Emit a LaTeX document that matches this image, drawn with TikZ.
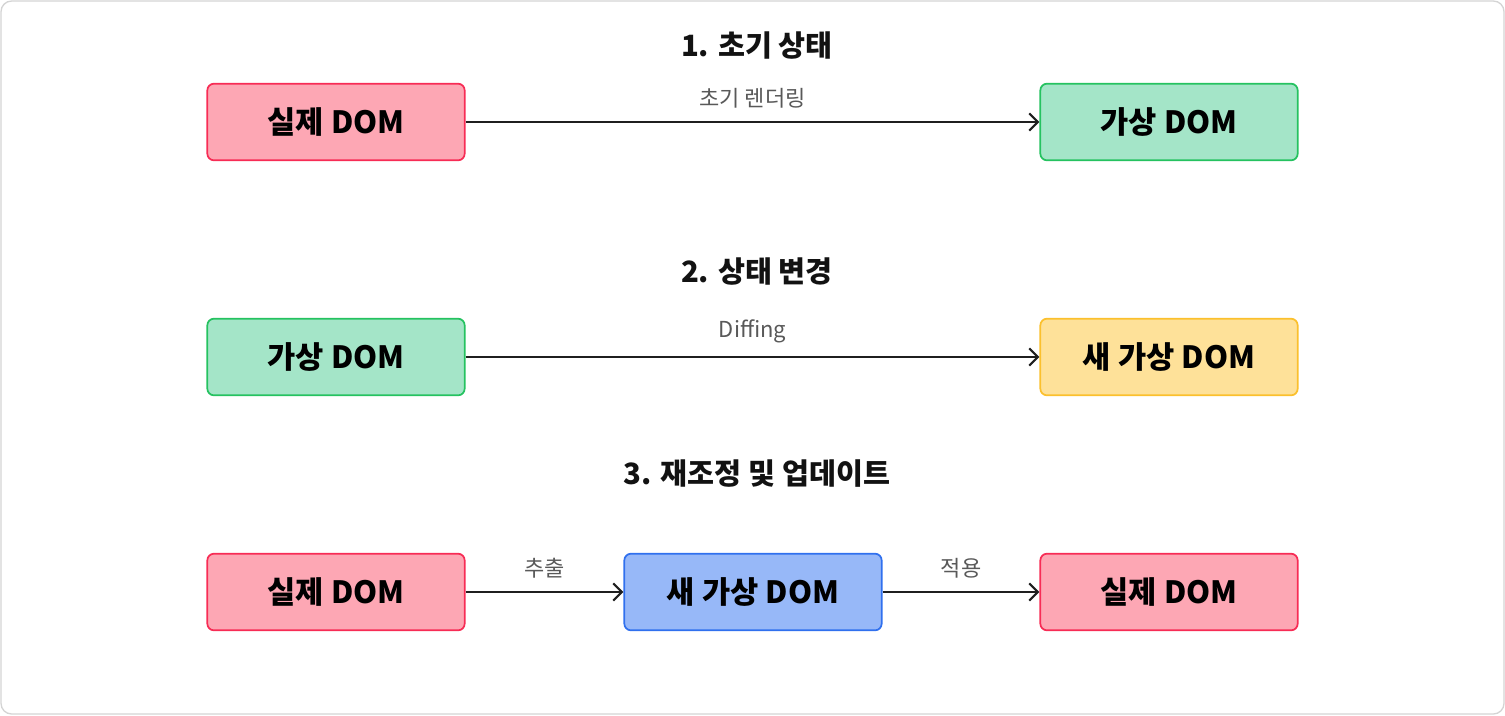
\documentclass[tikz,border=0pt]{standalone}
\usepackage{fontspec}
\setmainfont{Noto Sans CJK KR}
\usetikzlibrary{arrows.meta}
\definecolor{realfill}{HTML}{FDA7B4}
\definecolor{realline}{HTML}{F72C55}
\definecolor{virtfill}{HTML}{A4E5C8}
\definecolor{virtline}{HTML}{25C260}
\definecolor{newfill}{HTML}{FEE199}
\definecolor{newline}{HTML}{FBC02D}
\definecolor{patchfill}{HTML}{97B8F8}
\definecolor{patchline}{HTML}{3070EE}
\definecolor{framegray}{HTML}{D4D4D4}
\begin{document}
\begin{tikzpicture}[x=0.75pt, y=-0.75pt,
    box/.style={draw, line width=1.3pt, rounded corners=5pt, minimum width=193pt, minimum height=57.5pt, font=\fontsize{23}{27}\selectfont\bfseries},
    title/.style={font=\fontsize{22}{26}\selectfont\bfseries, text=black!93},
    lbl/.style={font=\fontsize{16.5}{19}\selectfont, text=black!65},
    flow/.style={line width=1.6pt, black!88, -{Straight Barb[length=6.5pt, width=13pt, line width=1.6pt]}}]
	\useasboundingbox (0,0) rectangle (1505,715);
	\draw[framegray, line width=1pt, rounded corners=8pt] (1,1) rectangle (1504,714);
	% 1. 초기 상태
	\node[title] (t1) at (757,46) {1. 초기 상태};
	\node[box, fill=realfill, draw=realline] (real1) at (336,122) {실제 DOM};
	\node[box, fill=virtfill, draw=virtline] (virt1) at (1169,122) {가상 DOM};
	\draw[flow] (real1) -- (virt1) node[lbl, midway, above=6.5pt] (l1) {초기 렌더링};
	% 2. 상태 변경
	\node[title] (t2) at (757,272) {2. 상태 변경};
	\node[box, fill=virtfill, draw=virtline] (virt2) at (336,357) {가상 DOM};
	\node[box, fill=newfill, draw=newline] (new2) at (1169,357) {새 가상 DOM};
	\draw[flow] (virt2) -- (new2) node[lbl, midway, above=6.5pt] (l2) {Diffing};
	% 3. 재조정 및 업데이트
	\node[title] (t3) at (757,474) {3. 재조정 및 업데이트};
	\node[box, fill=realfill, draw=realline] (real3) at (336,592) {실제 DOM};
	\node[box, fill=patchfill, draw=patchline] (new3) at (753,592) {새 가상 DOM};
	\node[box, fill=realfill, draw=realline] (real4) at (1169,592) {실제 DOM};
	\draw[flow] (real3) -- (new3) node[lbl, midway, above=6.5pt] (l3) {추출};
	\draw[flow] (new3) -- (real4) node[lbl, midway, above=6.5pt] (l4) {적용};
\end{tikzpicture}
\end{document}
